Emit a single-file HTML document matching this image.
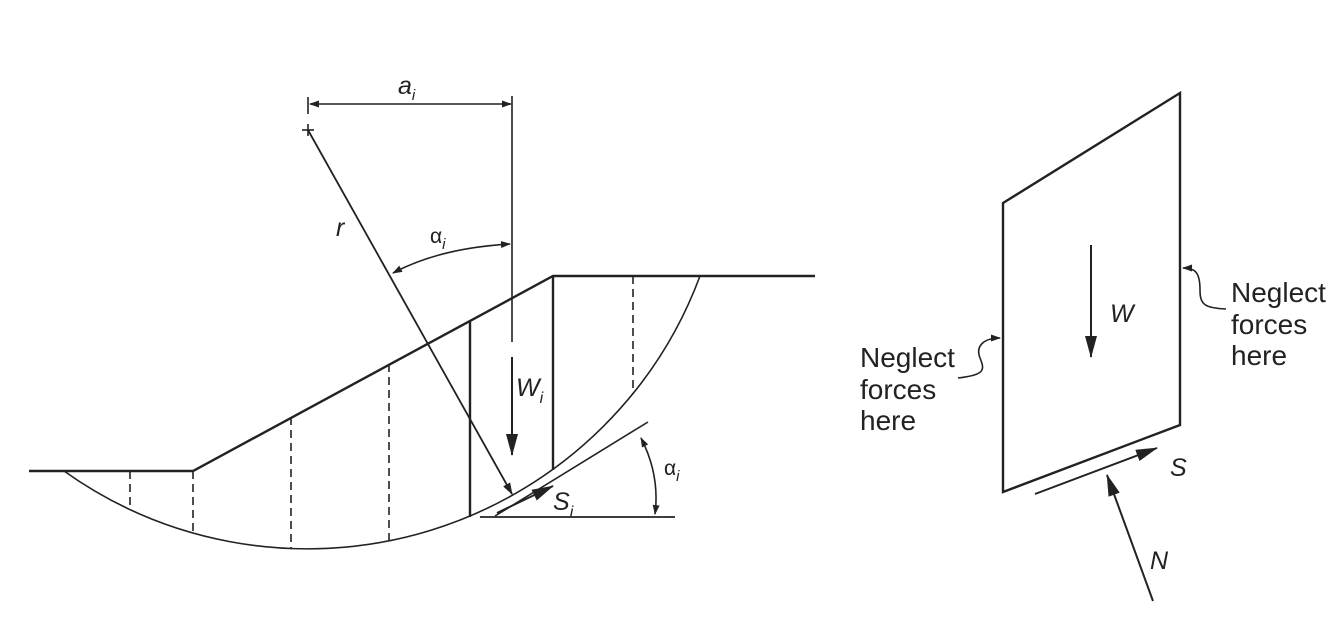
<!DOCTYPE html>
<html><head><meta charset="utf-8"><style>
html,body{margin:0;padding:0;background:#fff;}
svg{display:block;}
text{font-family:"Liberation Sans",sans-serif;fill:#222;}
</style></head><body>
<svg width="1344" height="626" viewBox="0 0 1344 626" xmlns="http://www.w3.org/2000/svg">
<defs>
<marker id="ah" markerWidth="12" markerHeight="8" refX="11" refY="4" orient="auto" markerUnits="userSpaceOnUse">
<path d="M0,0 L12,4 L0,8 z" fill="#222"/></marker>
<marker id="ahb" markerWidth="22" markerHeight="12" refX="21" refY="6" orient="auto" markerUnits="userSpaceOnUse">
<path d="M0,0 L22,6 L0,12 z" fill="#222"/></marker>
<marker id="ahs" markerWidth="10" markerHeight="7" refX="9" refY="3.5" orient="auto-start-reverse" markerUnits="userSpaceOnUse">
<path d="M0,0 L10,3.5 L0,7 z" fill="#222"/></marker>
</defs>
<g stroke="#222" fill="none" stroke-width="2">
<polyline points="29,471 193,471 553,276 815,276" stroke-width="2.4"/>
<path d="M64,471 A419,419 0 0 0 700,276" stroke-width="1.6"/>
<g stroke-dasharray="8,5" stroke-width="1.6">
<line x1="130" y1="471" x2="130" y2="508"/>
<line x1="193" y1="471" x2="193" y2="533"/>
<line x1="291" y1="417" x2="291" y2="548"/>
<line x1="389" y1="364" x2="389" y2="541"/>
<line x1="633" y1="276" x2="633" y2="394"/>
</g>
<line x1="470" y1="321" x2="470" y2="517" stroke-width="2.4"/>
<line x1="553" y1="276" x2="553" y2="470" stroke-width="2.4"/>
<line x1="308" y1="97" x2="308" y2="114" stroke-width="1.6"/>
<line x1="310" y1="104" x2="511" y2="104" stroke-width="1.6" marker-start="url(#ahs)" marker-end="url(#ahs)"/>
<line x1="512" y1="96" x2="512" y2="342" stroke-width="1.6"/>
<line x1="302" y1="130" x2="314" y2="130" stroke-width="1.6"/>
<line x1="308" y1="124" x2="308" y2="136" stroke-width="1.6"/>
<line x1="512" y1="357" x2="512" y2="455" stroke-width="2" marker-end="url(#ahb)"/>
<line x1="308" y1="130" x2="512" y2="494" stroke-width="1.8" marker-end="url(#ah)"/>
<path d="M393,273 Q440,248 510,244" stroke-width="1.6" marker-start="url(#ahs)" marker-end="url(#ahs)"/>
<line x1="480" y1="517" x2="675" y2="517" stroke-width="1.8"/>
<line x1="495" y1="516" x2="648" y2="422" stroke-width="1.6"/>
<path d="M641,438 Q660,475 655,514" stroke-width="1.6" marker-start="url(#ahs)" marker-end="url(#ahs)"/>
<line x1="497" y1="513" x2="553" y2="486" stroke-width="2" marker-end="url(#ahb)"/>
<polygon points="1003,203 1180,93 1180,425 1003,492" stroke-width="2.4"/>
<line x1="1091" y1="245" x2="1091" y2="357" stroke-width="2" marker-end="url(#ahb)"/>
<line x1="1035" y1="494" x2="1157" y2="448" stroke-width="2" marker-end="url(#ahb)"/>
<line x1="1153" y1="601" x2="1107" y2="475" stroke-width="2" marker-end="url(#ahb)"/>
<path d="M958,378 C985,375 985,370 980,358 C975,345 985,338 1000,338" stroke-width="1.6" marker-end="url(#ahs)"/>
<path d="M1226,309 C1205,308 1200,305 1200,290 C1200,272 1195,268 1183,268" stroke-width="1.6" marker-end="url(#ahs)"/>
</g>
<g font-size="25">
<text x="398" y="94" font-style="italic">a<tspan font-size="15" dy="6">i</tspan></text>
<text x="336" y="236" font-style="italic">r</text>
<text x="430" y="243" font-size="21">α<tspan font-size="15" dy="6" font-style="italic">i</tspan></text>
<text x="664" y="475" font-size="21">α<tspan font-size="15" dy="6" font-style="italic">i</tspan></text>
<text x="516" y="396" font-style="italic">W<tspan font-size="16" dy="7">i</tspan></text>
<text x="553" y="510" font-style="italic">S<tspan font-size="16" dy="7">i</tspan></text>
<text x="1110" y="322" font-style="italic">W</text>
<text x="1170" y="476" font-style="italic">S</text>
<text x="1150" y="569" font-style="italic">N</text>
</g>
<g font-size="28">
<text x="860" y="367">Neglect</text>
<text x="860" y="399">forces</text>
<text x="860" y="430">here</text>
<text x="1231" y="302">Neglect</text>
<text x="1231" y="334">forces</text>
<text x="1231" y="365">here</text>
</g>
</svg>
</body></html>
